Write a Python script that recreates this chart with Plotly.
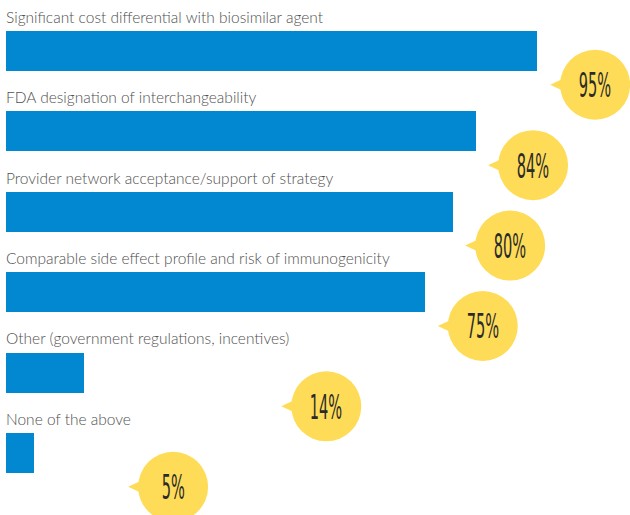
import plotly.graph_objects as go

categories = [
    "Significant cost differential with biosimilar agent",
    "FDA designation of interchangeability",
    "Provider network acceptance/support of strategy",
    "Comparable side effect profile and risk of immunogenicity",
    "Other (government regulations, incentives)",
    "None of the above",
]
values = [95, 84, 80, 75, 14, 5]
value_labels = ["95%", "84%", "80%", "75%", "14%", "5%"]

# layout positions of the speech bubbles (data units along x)
bubble_x = [105.4, 94.3, 90.2, 85.3, 57.3, 29.9]
bubble_dy = 0.42
label_dy = -0.425

BAR = "#0288D1"
BUBBLE = "#FEDC57"
TXT = "#505050"

pos = list(range(len(categories)))

fig = go.Figure()
fig.add_trace(go.Bar(
    x=values, y=pos, base=0, orientation="h", width=0.5,
    marker=dict(color=BAR, line=dict(width=0)),
    hoverinfo="skip", showlegend=False,
))

shapes = []
annotations = []
for i, (cat, lab, bx) in enumerate(zip(categories, value_labels, bubble_x)):
    annotations.append(dict(
        x=0, y=i + label_dy, xref="x", yref="y", text=cat, showarrow=False,
        xanchor="left", yanchor="middle", xshift=-2,
        font=dict(family="Lato", size=15.5, color=TXT, weight=300),
    ))
    cy = i + bubble_dy
    shapes.append(dict(
        type="circle", xref="x", yref="y", xsizemode="pixel", ysizemode="pixel",
        xanchor=bx, yanchor=cy, x0=-35, x1=35, y0=-35, y1=35,
        fillcolor=BUBBLE, line=dict(width=0), layer="above",
    ))
    shapes.append(dict(
        type="path", xref="x", yref="y", xsizemode="pixel", ysizemode="pixel",
        xanchor=bx, yanchor=cy, path="M -30,7 L -45,0 L -30,-7 Z",
        fillcolor=BUBBLE, line=dict(width=0), layer="above",
    ))
    annotations.append(dict(
        x=bx, y=cy, xref="x", yref="y", text=lab, showarrow=False,
        xanchor="center", yanchor="middle",
        font=dict(family="'DejaVu Sans Condensed', 'Liberation Sans Narrow', sans-serif",
                  size=27, color="#2b2b2b"),
    ))

fig.update_layout(
    width=630, height=515,
    margin=dict(l=0, r=0, t=0, b=0),
    paper_bgcolor="white", plot_bgcolor="white",
    xaxis=dict(range=[-1.0735, 111.64], visible=False, fixedrange=True),
    yaxis=dict(range=[5.771, -0.634], visible=False, fixedrange=True),
    shapes=shapes, annotations=annotations,
    bargap=0,
)

post = """
document.body.style.margin='0';
document.body.style.overflow='hidden';
document.querySelectorAll('.annotation-text').forEach(function(t){
  if (/%$/.test(t.textContent)) {
    t.style.transformBox='fill-box';
    t.style.transformOrigin='center';
    t.style.transform='scale(0.6,1.27)';
  }
});
"""

fig.write_html("out.html", config={"displayModeBar": False}, post_script=post)
